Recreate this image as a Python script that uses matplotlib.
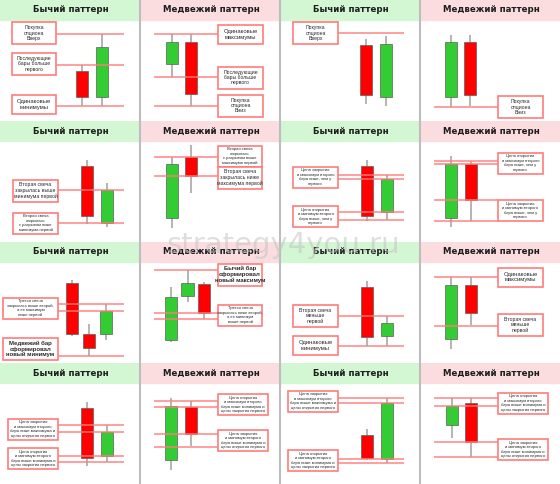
import matplotlib
matplotlib.use("Agg")
import matplotlib.pyplot as plt
from matplotlib.patches import Rectangle
from matplotlib.lines import Line2D

titles = ["Бычий паттерн", "Медвежий паттерн"] * 8

# candles as (open, high, low, close)
candles = [
    [(50, 56, 15, 24), (24, 87, 15, 74)],
    [(57, 87, 44, 79), (79, 87, 15, 27)],
    [(76, 82, 17, 26), (24, 85, 15, 77)],
    [(24, 86, 14, 79), (79, 86, 15, 26)],
    [(76, 82, 18, 26), (19, 59, 15, 52)],
    [(24, 85, 14, 78), (85, 97, 49, 66)],
    [(76, 82, 21, 26), (30, 67, 22, 63)],
    [(24, 86, 15, 78), (78, 81, 21, 42)],
    [(80, 83, 27, 29), (29, 39, 7, 15), (29, 59, 23, 52)],
    [(23, 76, 21, 66), (67, 93, 61, 80), (79, 81, 44, 50)],
    [(76, 82, 17, 26), (27, 47, 17, 40)],
    [(24, 86, 14, 78), (78, 86, 38, 50)],
    [(76, 82, 18, 26), (28, 59, 22, 52)],
    [(24, 86, 14, 78), (77, 83, 38, 50)],
    [(49, 55, 24, 26), (25, 86, 21, 81)],
    [(59, 86, 46, 78), (81, 86, 27, 42)],
]

levels = [
    [87, 56, 15], [87, 44, 15], [88], [14],
    [52, 19], [85, 66], [67, 63, 30, 22], [81, 78, 42, 21],
    [59, 52, 7], [93, 50, 44], [47, 17], [86, 37],
    [59, 52, 28, 22], [83, 77, 50, 37], [86, 81, 25, 21], [86, 78, 42, 27],
]

notes = [
    ["Покупка\nопциона\nВверх", "Последующие\nбары больше\nпервого", "Одинаковые\nминимумы"],
    ["Одинаковые\nмаксимумы", "Последующие\nбары больше\nпервого", "Покупка\nопциона\nВниз"],
    ["Покупка\nопциона\nВверх"],
    ["Покупка\nопциона\nВниз"],
    ["Вторая свеча\nзакрылась выше\nминимума первой",
     "Вторая свеча\nоткрылась\nс разрывом ниже\nминимума первой"],
    ["Вторая свеча\nоткрылась\nс разрывом выше\nмаксимума первой",
     "Вторая свеча\nзакрылась ниже\nмаксимума первой"],
    ["Цена закрытия\nи максимум второго\nбара ниже, чем у\nпервого",
     "Цена открытия\nи минимум второго\nбара выше, чем у\nпервого"],
    ["Цена открытия\nи максимум второго\nбара ниже, чем у\nпервого",
     "Цена закрытия\nи минимум второго\nбара выше, чем у\nпервого"],
    ["Третья свеча\nзакрылась выше второй,\nа ее максимум\nниже первой",
     "Медвежий бар\nсформировал\nновый минимум"],
    ["Бычий бар\nсформировал\nновый максимум",
     "Третья свеча\nзакрылась ниже второй,\nа ее минимум\nвыше первой"],
    ["Вторая свеча\nменьше\nпервой", "Одинаковые\nминимумы"],
    ["Одинаковые\nмаксимумы", "Вторая свеча\nменьше\nпервой"],
    ["Цена закрытия\nи максимум второго\nбара ниже максимума и\nцены открытия первого",
     "Цена открытия\nи минимум второго\nбара выше минимума и\nцены закрытия первого"],
    ["Цена открытия\nи максимум второго\nбара ниже минимума и\nцены закрытия первого",
     "Цена закрытия\nи минимум второго\nбара выше минимума и\nцены открытия первого"],
    ["Цена закрытия\nи максимум второго\nбара выше максимума и\nцены открытия первого",
     "Цена открытия\nи минимум второго\nбара ниже минимума и\nцены закрытия первого"],
    ["Цена открытия\nи максимум второго\nбара выше минимума и\nцены закрытия первого",
     "Цена закрытия\nи минимум второго\nбара ниже минимума и\nцены открытия первого"],
]

# layout (panel pixels)
note_y = [
    [88, 57, 16.5], [86.5, 43.5, 15.5], [88], [14],
    [51.5, 19], [86, 64.5], [65, 25.5], [79, 31.5],
    [55, 14], [88.5, 48], [47, 17.5], [86, 38],
    [55, 25.5], [79.5, 43.5], [83, 23.5], [81, 34.5],
]
x_first = [82, 32, 86, 31, 87, 32, 87, 31, 72, 31, 87, 31, 87, 31, 87, 32]
x_step = [20, 19, 20, 19, 20, 19, 20, 20, 17, 16.5, 20, 20, 20, 20, 20, 19]
box_span = [(12, 56), (78, 123), (13, 58), (78, 123),
            (13, 58), (78, 122), (13, 58), (78, 123),
            (3, 58), (78, 122), (13, 58), (78, 123),
            (8, 58), (78, 128), (8, 58), (78, 128)]
bold_notes = {"Медвежий бар\nсформировал\nновый минимум", "Бычий бар\nсформировал\nновый максимум"}

UP = "#33cc33"
DOWN = "#ff0000"
LINE = "#ff7b7b"
HEAD = {"Бычий паттерн": "#d3f6d3", "Медвежий паттерн": "#fbdde0"}

fig = plt.figure(figsize=(5.6, 4.84), dpi=100)
fig.patch.set_facecolor("white")

for k in range(16):
    r, c = divmod(k, 4)
    ax = fig.add_axes([c * 0.25, 1 - (r + 1) * 0.25, 0.25, 0.25])
    ax.set_xlim(0, 140)
    ax.set_ylim(0, 121)
    ax.axis("off")

    # header band
    ax.add_patch(Rectangle((0, 101), 140, 20, color=HEAD[titles[k]], zorder=0))
    ax.text(71, 111, titles[k], ha="center", va="center", fontsize=6.2,
            fontweight="bold", color="#1e1e1e", family="DejaVu Sans")

    bull = titles[k].startswith("Бычий")
    bx0, bx1 = box_span[k]

    # candles
    for i, (o, h, l, cl) in enumerate(candles[k]):
        x = x_first[k] + i * x_step[k]
        col = UP if cl > o else DOWN
        ax.vlines(x, l, h, color="#a8a8a8", lw=1.2, zorder=1)
        ax.bar(x, cl - o, bottom=o, width=12.5, color=col, edgecolor="#5e5e5e",
               linewidth=0.5, zorder=2)

    # levels
    lx0, lx1 = (bx1, 124) if bull else (14, bx0)
    for lv in levels[k]:
        ax.hlines(lv, lx0, lx1, color=LINE, lw=1.2, alpha=0.85, zorder=3)

    # notes
    for txt, yc in zip(notes[k], note_y[k]):
        n = txt.count("\n") + 1
        hgt = {2: 19, 3: 22, 4: 21}[n]
        ax.add_patch(Rectangle((bx0, yc - hgt / 2), bx1 - bx0, hgt, fc="white",
                               ec=LINE, lw=1.2, zorder=4))
        if txt in bold_notes:
            fs, fw = 4.3, "bold"
        else:
            fs, fw = {2: 4.2, 3: 3.7, 4: 3.0}[n], "normal"
        ax.text((bx0 + bx1) / 2, yc, txt, ha="center", va="center", fontsize=fs,
                fontweight=fw, color="#2a2a2a", family="Liberation Sans",
                linespacing=1.12, zorder=5)

# separators
for xs in (140, 280, 420):
    fig.add_artist(Line2D([xs / 560, xs / 560], [0, 1], color="#bdbdbd", lw=1.5))

# watermark
fig.text(0.505, 0.493, "strategy4you.ru", ha="center", va="center", fontsize=21,
         color="#c4c4c4", alpha=0.55, zorder=10)

fig.savefig("out.png", dpi=100)
